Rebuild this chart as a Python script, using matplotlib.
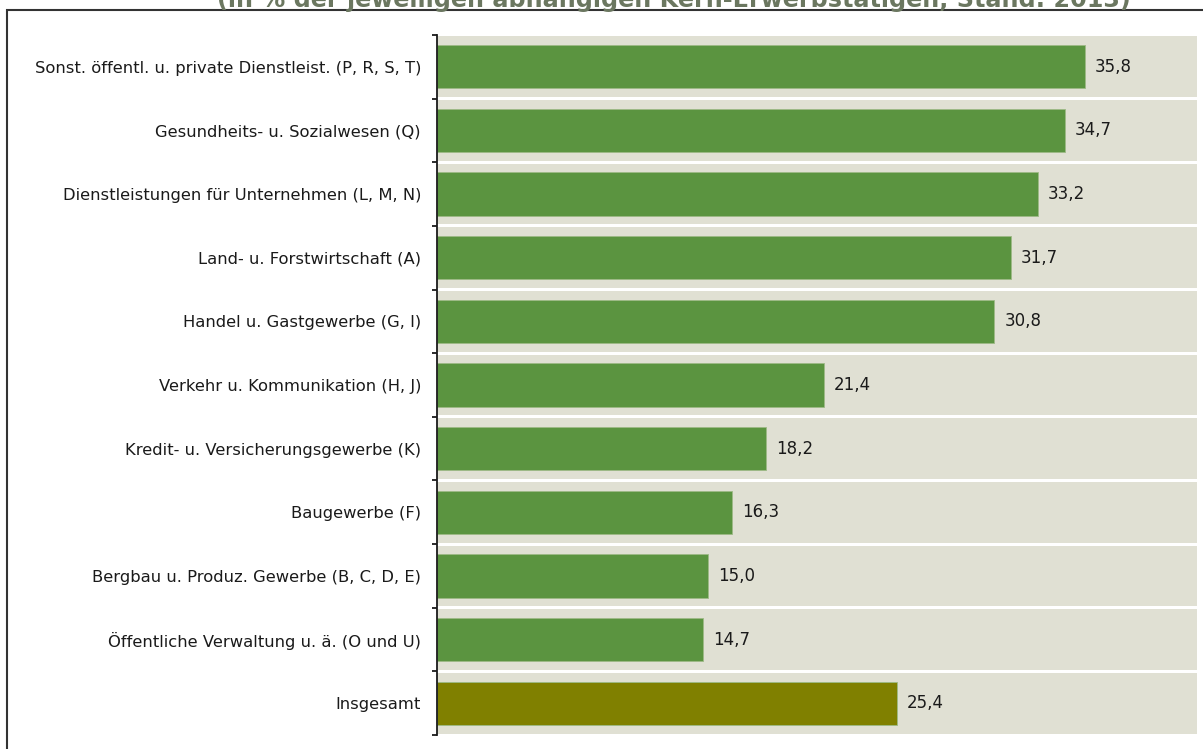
import matplotlib.pyplot as plt
from matplotlib.patches import Rectangle
import numpy as np

categories = [
    "Sonst. öffentl. u. private Dienstleist. (P, R, S, T)",
    "Gesundheits- u. Sozialwesen (Q)",
    "Dienstleistungen für Unternehmen (L, M, N)",
    "Land- u. Forstwirtschaft (A)",
    "Handel u. Gastgewerbe (G, I)",
    "Verkehr u. Kommunikation (H, J)",
    "Kredit- u. Versicherungsgewerbe (K)",
    "Baugewerbe (F)",
    "Bergbau u. Produz. Gewerbe (B, C, D, E)",
    "Öffentliche Verwaltung u. ä. (O und U)",
    "Insgesamt",
]
values = [35.8, 34.7, 33.2, 31.7, 30.8, 21.4, 18.2, 16.3, 15.0, 14.7, 25.4]
title = "(in % der jeweiligen abhängigen Kern-Erwerbstätigen, Stand: 2013)"

green = "#5B9440"
olive = "#808000"
band = "#E0E0D3"
xmax = 42

fig = plt.figure(figsize=(12.03, 7.49), dpi=100)
ax = fig.add_axes([437 / 1203, 1 - 735 / 749, 760 / 1203, 700 / 749])

n = len(categories)
y = np.arange(n)
colors = [green] * (n - 1) + [olive]

# background bands per row
ax.barh(y, [xmax] * n, height=0.955, color=band, zorder=1)
ax.barh(y, values, height=0.68, color=colors, edgecolor="#9DBA86", linewidth=0.6, zorder=2)

for yi, v in zip(y, values):
    ax.text(v + 0.55, yi, f"{v:.1f}".replace(".", ","), va="center", ha="left",
            fontsize=12, color="#1a1a1a", zorder=3)

ax.set_xlim(0, xmax)
ax.set_ylim(n - 0.5, -0.5)
ax.set_yticks(y)
ax.set_yticklabels(categories, fontsize=11.8, color="#1a1a1a")
ax.set_yticks(np.arange(-0.5, n, 1), minor=True)
ax.tick_params(axis="y", which="major", length=0, pad=11.5)
ax.tick_params(axis="y", which="minor", length=3.6, width=1.3, color="#1a1a1a")
ax.set_xticks([])
for s in ["top", "right", "bottom"]:
    ax.spines[s].set_visible(False)
ax.spines["left"].set_linewidth(1.3)
ax.spines["left"].set_color("#1a1a1a")

# outer frame, partly cut off
fig.patches.append(Rectangle((7 / 1203, -0.1), 1.2, 1 - 9.5 / 749 + 0.1,
                             transform=fig.transFigure, fill=False,
                             edgecolor="#333333", linewidth=1.5))

fig.text(674 / 1203, 1 - 7.5 / 749, title, ha="center", va="baseline",
         fontsize=17.2, fontweight="bold", color="#6B7760")

fig.savefig("out.png", dpi=100)
